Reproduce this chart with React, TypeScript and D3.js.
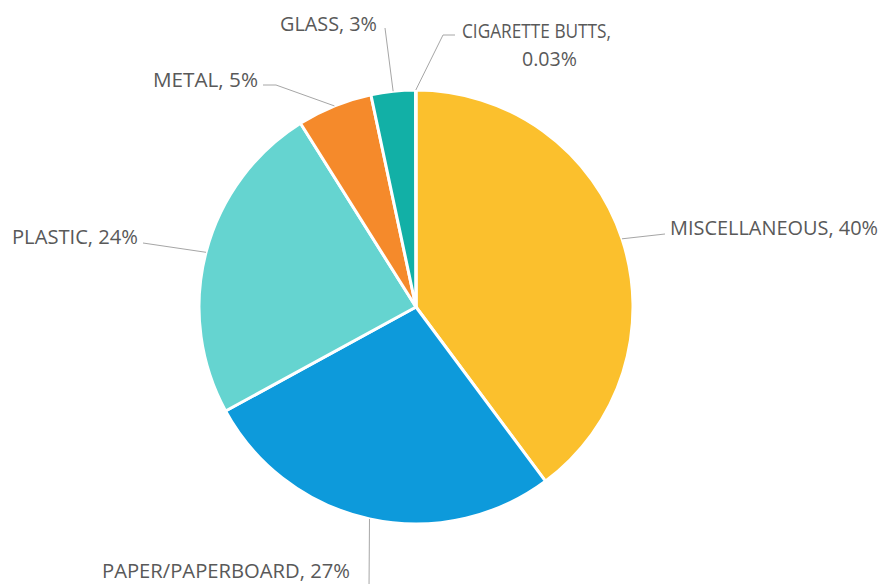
import React from "react";
import * as d3 from "d3";

const categories = ["MISCELLANEOUS", "PAPER/PAPERBOARD", "PLASTIC", "METAL", "GLASS", "CIGARETTE BUTTS"];
const values = [39.8, 27.2, 24.0, 5.6, 3.3, 0.03];
const percentLabels = ["40%", "27%", "24%", "5%", "3%", "0.03%"];
const colors = ["#FBC02D", "#0D9ADB", "#65D4D0", "#F58A2B", "#12B0A6", "#7F7F7F"];

// label layout: text anchor point, target widths, elbow points for leader lines
const labelLayout: Record<string, { lines: { x: number; y: number; anchor: string; w: number }[]; elbow: [number, number][] }> = {
  "MISCELLANEOUS": { lines: [{ x: 670, y: 235, anchor: "start", w: 208 }], elbow: [[665, 234]] },
  "PAPER/PAPERBOARD": { lines: [{ x: 102, y: 578, anchor: "start", w: 248 }], elbow: [[369, 590]] },
  "PLASTIC": { lines: [{ x: 12, y: 244, anchor: "start", w: 126 }], elbow: [[143, 243]] },
  "METAL": { lines: [{ x: 153, y: 87, anchor: "start", w: 105 }], elbow: [[276, 85], [263, 85]] },
  "GLASS": { lines: [{ x: 280, y: 31, anchor: "start", w: 97 }], elbow: [[385, 28]] },
  "CIGARETTE BUTTS": {
    lines: [
      { x: 462, y: 38, anchor: "start", w: 149 },
      { x: 522, y: 66, anchor: "start", w: 55 },
    ],
    elbow: [[443, 35], [455, 35]],
  },
};

const W = 888;
const H = 584;
const cx = 416;
const cy = 307;
const R = 217;

export default function App() {
  const data = categories.map((c, i) => ({ name: c, value: values[i], label: percentLabels[i], color: colors[i] }));
  const pie = d3.pie<any>().value((d) => d.value).sort(null);
  const arcs = pie(data);
  const arcGen = d3.arc<any>().innerRadius(0).outerRadius(R);

  return (
    <svg
      width={W}
      height={H}
      style={{ position: "absolute", left: 0, top: 0, background: "#fff" }}
      fontFamily="'Open Sans', sans-serif"
    >
      <g transform={`translate(${cx},${cy})`}>
        {arcs.map((a, i) => (
          <path key={i} d={arcGen(a) || ""} fill={a.data.color} stroke="#fff" strokeWidth={3} strokeLinejoin="round" />
        ))}
      </g>
      {arcs.map((a, i) => {
        const mid = (a.startAngle + a.endAngle) / 2;
        const sx = cx + R * Math.sin(mid);
        const sy = cy - R * Math.cos(mid);
        const lay = labelLayout[a.data.name];
        const pts: [number, number][] = [[sx, sy], ...lay.elbow];
        const line = d3.line()(pts) || "";
        const texts =
          lay.lines.length > 1
            ? [a.data.name + ",", a.data.label]
            : [a.data.name + ", " + a.data.label];
        return (
          <g key={"l" + i}>
            <path d={line} fill="none" stroke="#A6A6A6" strokeWidth={1} />
            {lay.lines.map((ln, j) => (
              <text
                key={j}
                x={ln.x}
                y={ln.y}
                textAnchor={ln.anchor as any}
                fontSize={20}
                fill="#595959"
                textLength={ln.w}
                lengthAdjust="spacingAndGlyphs"
              >
                {texts[j]}
              </text>
            ))}
          </g>
        );
      })}
    </svg>
  );
}
